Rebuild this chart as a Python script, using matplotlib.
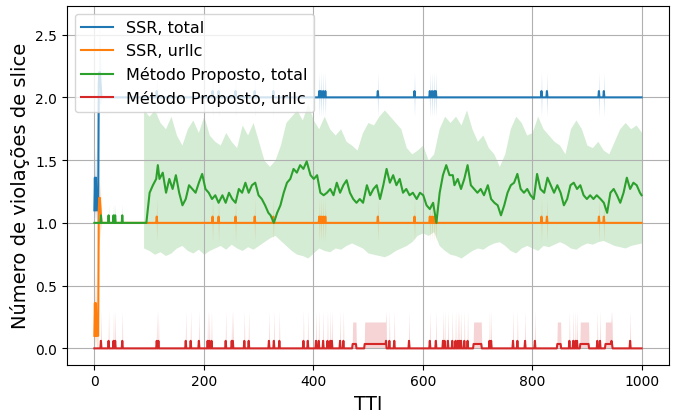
import numpy as np
import matplotlib
matplotlib.use("Agg")
import matplotlib.pyplot as plt

# --- dados ---
n_tti = 1001

# SSR: inicio (t = 0..12), depois patamar com picos
ssr_total_start = [1.1, 1.36, 1.1, 1.36, 1.1, 1.1, 1.1, 1.1, 2.1, 2.2, 2.2, 2.13, 2.07]
ssr_total_start_hi = [1.3, 1.6, 1.3, 1.6, 1.3, 1.3, 1.3, 1.3, 2.4, 2.6, 2.5, 2.35, 2.2]
ssr_total_start_lo = [1.0, 1.1, 1.0, 1.1, 1.0, 1.0, 1.0, 1.0, 1.8, 1.9, 1.95, 1.95, 1.95]
ssr_urllc_start = [0.1, 0.36, 0.1, 0.36, 0.1, 0.1, 0.1, 0.1, 1.1, 1.2, 1.2, 1.13, 1.07]
ssr_urllc_start_hi = [0.3, 0.6, 0.3, 0.6, 0.3, 0.3, 0.3, 0.3, 1.3, 1.35, 1.3, 1.25, 1.2]
ssr_urllc_start_lo = [0.0, 0.1, 0.0, 0.1, 0.0, 0.0, 0.0, 0.0, 0.8, 0.85, 0.9, 0.95, 0.95]
ssr_total_level = 2.0
ssr_urllc_level = 1.0
ssr_spikes = [114, 216, 227, 258, 293, 327, 411, 414, 418, 422, 518, 585,
              613, 617, 621, 624, 817, 827, 922, 931]
ssr_spike_height = 0.05

# Metodo proposto, urllc
mp_urllc_spikes = [12, 26, 35, 38, 51, 114, 117, 167, 176, 191, 207, 210, 214,
                   240, 251, 253, 274, 282, 319, 328, 338, 382, 390, 405, 410,
                   418, 426, 431, 434, 449, 455, 533, 539, 548, 575, 613, 624,
                   637, 640, 646, 654, 660, 664, 667, 670, 676, 682, 722, 725,
                   765, 773, 787, 805, 868, 875, 879, 882, 919, 924, 945, 979]
mp_urllc_plateaus = [(472, 478), (494, 532), (693, 707), (846, 852), (888, 903), (934, 946)]
mp_urllc_spike_height = 0.06
mp_urllc_plateau_height = 0.035

# Metodo proposto, total (media a partir de t = 90)
mp_total_t = [90, 95, 101, 107, 113, 116, 119, 125, 131, 137, 143, 149, 155, 161, 167,
              173, 179, 185, 191, 197, 203, 209, 215, 221, 227, 234, 240, 246, 252,
              258, 264, 270, 276, 282, 288, 294, 300, 306, 312, 318, 322, 328, 334,
              340, 346, 352, 358, 364, 370, 376, 382, 388, 395, 401, 407, 413, 419,
              425, 431, 437, 443, 449, 455, 461, 467, 473, 479, 485, 491, 498, 504,
              510, 516, 522, 528, 534, 540, 546, 552, 558, 564, 570, 576, 582, 589,
              595, 601, 607, 613, 619, 625, 631, 637, 643, 649, 655, 658, 664, 670,
              676, 682, 688, 694, 700, 706, 712, 719, 725, 731, 737, 743, 749, 755,
              761, 767, 773, 779, 785, 791, 797, 803, 809, 815, 822, 828, 834, 840,
              846, 852, 858, 864, 870, 876, 882, 888, 894, 900, 906, 912, 918, 925,
              931, 937, 943, 949, 955, 961, 967, 973, 979, 985, 991, 997, 1000]
mp_total = [1.0, 1.0, 1.24, 1.30, 1.35, 1.46, 1.35, 1.40, 1.24, 1.35, 1.27, 1.38, 1.24,
            1.14, 1.19, 1.30, 1.27, 1.24, 1.32, 1.39, 1.27, 1.24, 1.19, 1.22, 1.16,
            1.22, 1.16, 1.24, 1.19, 1.16, 1.27, 1.24, 1.32, 1.24, 1.30, 1.32, 1.22,
            1.19, 1.14, 1.08, 1.06, 1.0, 1.08, 1.14, 1.24, 1.32, 1.35, 1.43, 1.40,
            1.46, 1.43, 1.49, 1.38, 1.35, 1.38, 1.24, 1.22, 1.24, 1.27, 1.22, 1.32,
            1.24, 1.30, 1.34, 1.24, 1.19, 1.16, 1.19, 1.16, 1.30, 1.22, 1.27, 1.30,
            1.19, 1.30, 1.43, 1.32, 1.38, 1.30, 1.35, 1.24, 1.27, 1.22, 1.24, 1.19,
            1.24, 1.22, 1.14, 1.11, 1.16, 1.0, 1.24, 1.38, 1.46, 1.38, 1.38, 1.30,
            1.35, 1.27, 1.35, 1.46, 1.30, 1.27, 1.24, 1.27, 1.22, 1.30, 1.19, 1.16,
            1.14, 1.06, 1.14, 1.24, 1.30, 1.32, 1.39, 1.27, 1.24, 1.27, 1.22, 1.19,
            1.39, 1.27, 1.24, 1.36, 1.30, 1.24, 1.30, 1.24, 1.14, 1.19, 1.30, 1.32,
            1.27, 1.30, 1.22, 1.19, 1.22, 1.19, 1.22, 1.19, 1.16, 1.08, 1.24, 1.27,
            1.22, 1.16, 1.24, 1.36, 1.27, 1.32, 1.30, 1.24, 1.22]

# intervalo de confianca (a cada 10 TTI, de 90 a 1000)
mp_band_t = list(range(90, 1001, 10))
mp_band_hi = [1.9, 1.85, 1.9, 1.8, 1.75, 1.85, 1.7, 1.62, 1.75, 1.82, 1.72, 1.85, 1.7,
              1.65, 1.62, 1.72, 1.65, 1.6, 1.78, 1.7, 1.8, 1.65, 1.5, 1.45, 1.5, 1.62,
              1.8, 1.85, 1.9, 1.82, 1.95, 1.82, 1.75, 1.85, 1.75, 1.7, 1.75, 1.65,
              1.62, 1.58, 1.72, 1.8, 1.78, 1.85, 1.9, 1.85, 1.8, 1.75, 1.6, 1.55,
              1.58, 1.62, 1.5, 1.55, 1.75, 1.85, 1.8, 1.85, 1.78, 1.9, 1.75, 1.65,
              1.7, 1.6, 1.55, 1.45, 1.55, 1.75, 1.85, 1.8, 1.7, 1.72, 1.85, 1.75,
              1.7, 1.65, 1.62, 1.55, 1.75, 1.82, 1.75, 1.62, 1.6, 1.65, 1.58, 1.55,
              1.65, 1.75, 1.8, 1.75, 1.78, 1.72]
mp_band_lo = [0.8, 0.78, 0.75, 0.77, 0.74, 0.76, 0.8, 0.82, 0.78, 0.76, 0.79, 0.75,
              0.78, 0.8, 0.82, 0.79, 0.83, 0.8, 0.78, 0.81, 0.79, 0.82, 0.85, 0.88,
              0.9, 0.86, 0.82, 0.78, 0.75, 0.74, 0.72, 0.76, 0.8, 0.78, 0.77, 0.8,
              0.79, 0.82, 0.84, 0.82, 0.8, 0.76, 0.75, 0.74, 0.73, 0.75, 0.78, 0.8,
              0.82, 0.85, 0.9, 0.92, 0.9, 0.93, 0.82, 0.78, 0.75, 0.74, 0.72, 0.75,
              0.78, 0.8, 0.79, 0.82, 0.84, 0.85, 0.82, 0.78, 0.76, 0.8, 0.82, 0.8,
              0.78, 0.82, 0.81, 0.83, 0.85, 0.83, 0.8, 0.79, 0.82, 0.84, 0.83, 0.85,
              0.86, 0.84, 0.82, 0.81, 0.8, 0.82, 0.83, 0.84]

# --- montar series por TTI ---
t = np.arange(n_tti)
k = len(ssr_total_start)

total = np.full(n_tti, ssr_total_level)
total_hi = total.copy()
total_lo = total.copy()
urllc = np.full(n_tti, ssr_urllc_level)
urllc_hi = urllc.copy()
urllc_lo = urllc.copy()
total[:k], total_hi[:k], total_lo[:k] = ssr_total_start, ssr_total_start_hi, ssr_total_start_lo
urllc[:k], urllc_hi[:k], urllc_lo[:k] = ssr_urllc_start, ssr_urllc_start_hi, ssr_urllc_start_lo
for s in ssr_spikes:
    total[s] += ssr_spike_height
    urllc[s] += ssr_spike_height
    total_hi[s], total_lo[s] = 2.2, 1.85
    urllc_hi[s], urllc_lo[s] = 1.2, 0.85

red = np.zeros(n_tti)
red_hi = np.zeros(n_tti)
for a, b in mp_urllc_plateaus:
    red[a:b + 1] = mp_urllc_plateau_height
    red_hi[a:b + 1] = 0.21
for s in mp_urllc_spikes:
    red[s] = mp_urllc_spike_height
    red_hi[s] = 0.3

early_t = t[:90]
green_t = np.concatenate([early_t, mp_total_t])
green = np.concatenate([1.0 + red[:90], mp_total])
green_early_hi = 1.0 + 2.5 * red[:90]

colors = ['#1f77b4', '#ff7f0e', '#2ca02c', '#d62728']

fig = plt.figure(figsize=(6.76, 4.14), dpi=100)
ax = fig.add_axes([0.0991, 0.1167, 0.8905, 0.867])

ax.plot(t, total, color=colors[0], lw=1.5, label='SSR, total')
ax.fill_between(t, total_lo, total_hi, color=colors[0], alpha=0.2, lw=0)
ax.plot(t, urllc, color=colors[1], lw=1.5, label='SSR, urllc')
ax.fill_between(t, urllc_lo, urllc_hi, color=colors[1], alpha=0.2, lw=0)
ax.plot(green_t, green, color=colors[2], lw=1.5, label='Método Proposto, total')
ax.fill_between(mp_band_t, mp_band_lo, mp_band_hi, color=colors[2], alpha=0.2, lw=0)
ax.fill_between(early_t, 1.0, green_early_hi, color=colors[2], alpha=0.2, lw=0)
ax.plot(t, red, color=colors[3], lw=1.5, label='Método Proposto, urllc')
ax.fill_between(t, 0, red_hi, color=colors[3], alpha=0.2, lw=0)

ax.set_xlim(-50, 1050)
ax.set_ylim(-0.13, 2.73)
ax.set_xticks([0, 200, 400, 600, 800, 1000])
ax.set_yticks([0.0, 0.5, 1.0, 1.5, 2.0, 2.5])
ax.tick_params(labelsize=10)
ax.grid(True)
ax.set_xlabel('TTI', fontsize=13.5)
ax.set_ylabel('Número de violações de slice', fontsize=14)
ax.legend(loc='upper left', fontsize=11.5)

fig.savefig('out.png', dpi=100)
